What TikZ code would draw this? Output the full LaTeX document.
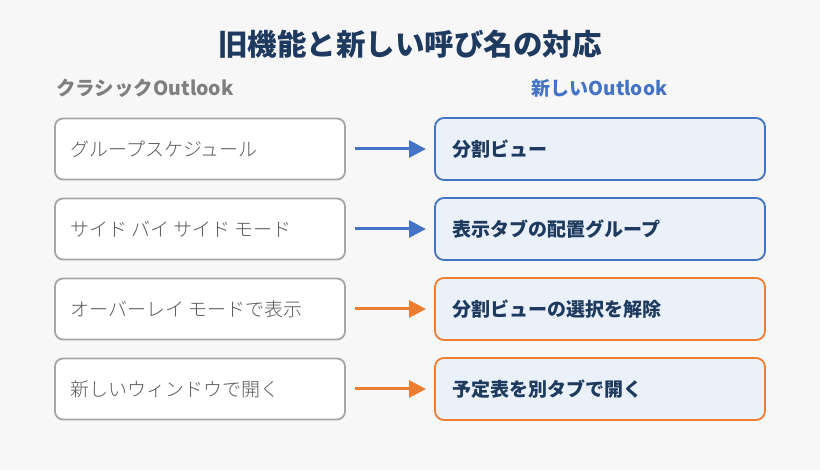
\documentclass[tikz,border=0pt]{standalone}
\usepackage{fontspec}
\setmainfont{Noto Sans CJK JP}
\newfontfamily\jplight{Noto Sans CJK JP Light}
\usetikzlibrary{arrows.meta}
\definecolor{bgc}{HTML}{F7F7F7}
\definecolor{navy}{HTML}{1F3A5F}
\definecolor{blu}{HTML}{4472C4}
\definecolor{orng}{HTML}{ED7D31}
\definecolor{lightblu}{HTML}{EAF1FB}
\definecolor{grayborder}{HTML}{A6A6A6}
\definecolor{graytext}{HTML}{595959}
\definecolor{headgray}{HTML}{7F7F7F}
\tikzset{
  oldbox/.style={draw=grayborder, line width=1.8pt, fill=white, rounded corners=8pt, minimum width=290pt, minimum height=61pt, inner sep=0pt},
  newbox/.style={draw=#1, line width=1.8pt, fill=lightblu, rounded corners=9pt, minimum width=330pt, minimum height=62pt, inner sep=0pt},
  oldtext/.style={anchor=west, font=\jplight\fontsize{19}{22}\selectfont, text=graytext, inner sep=0pt},
  newtext/.style={anchor=west, font=\fontsize{19}{22}\selectfont\bfseries, text=navy, inner sep=0pt},
  arr/.style={draw=#1, line width=3pt, -{Triangle[length=17pt,width=17pt,fill=#1]}}
}
\begin{document}
\begin{tikzpicture}[x=1pt,y=-1pt]
\useasboundingbox (0,0) rectangle (820,470);
\fill[bgc] (0,0) rectangle (820,470);
\node[font=\fontsize{29.5}{34}\selectfont\bfseries, text=navy] (title) at (410,44) {旧機能と新しい呼び名の対応};
\node[anchor=west, font=\fontsize{19.5}{22}\selectfont\bfseries, text=headgray, inner sep=0pt] (hl) at (56,88) {クラシックOutlook};
\node[font=\fontsize{19}{22}\selectfont\bfseries, text=blu, inner sep=0pt] (hr) at (599.5,88) {新しいOutlook};
\foreach \i/\old/\new/\c in {1/グループスケジュール/分割ビュー/blu, 2/サイド バイ サイド モード/表示タブの配置グループ/blu, 3/オーバーレイ モードで表示/分割ビューの選択を解除/orng, 4/新しいウィンドウで開く/予定表を別タブで開く/orng}{
  \pgfmathsetmacro{\yy}{69+80*\i}
  \node[oldbox] (o\i) at (200,\yy) {};
  \node[oldtext] (ot\i) at (70,\yy) {\old};
  \node[newbox=\c] (n\i) at (600,\yy) {};
  \node[newtext] (nt\i) at (452,\yy) {\new};
  \coordinate (as\i) at (355,\yy);
  \coordinate (ae\i) at (426,\yy);
  \draw[arr=\c] (as\i) -- (ae\i);
}
\end{tikzpicture}
\end{document}
